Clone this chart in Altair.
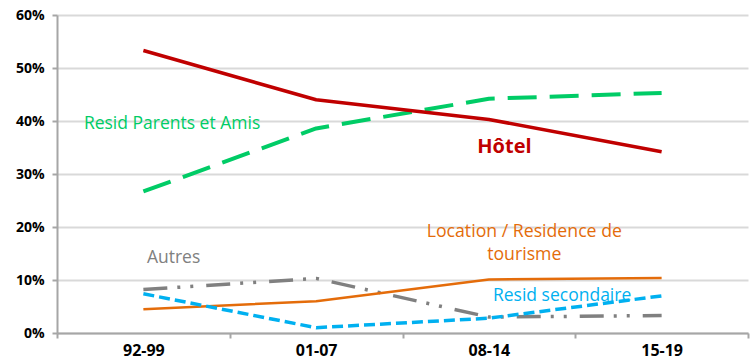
import altair as alt
import pandas as pd

periods = ["92-99", "01-07", "08-14", "15-19"]
hotel = [0.533, 0.440, 0.403, 0.342]
parents = [0.267, 0.386, 0.442, 0.453]
location = [0.045, 0.060, 0.101, 0.104]
autres = [0.082, 0.103, 0.030, 0.033]
secondaire = [0.074, 0.010, 0.028, 0.070]

# annotation labels (x in category-index units, y in value units)
ann_text = ["Resid Parents et Amis", "Hôtel", "Location / Residence de", "tourisme", "Autres", "Resid secondaire"]
ann_x = [0.166, 2.09, 2.205, 2.205, 0.175, 2.424]
ann_y = [0.394, 0.351, 0.1915, 0.147, 0.1415, 0.0698]
ann_color = ["#00CC66", "#C00000", "#E46C0A", "#E46C0A", "#808080", "#00B0F0"]
ann_weight = ["normal", "bold", "normal", "normal", "normal", "normal"]
ann_size = [17.5, 20, 17.7, 17.7, 17.5, 17.5]

series = [
    ("Autres", autres, "#808080", 3.5, [24, 10, 3, 10, 3, 13]),
    ("Location", location, "#E46C0A", 2.5, None),
    ("Resid secondaire", secondaire, "#00B0F0", 3.5, [11, 5]),
    ("Resid Parents et Amis", parents, "#00CC66", 4, [29, 13]),
    ("Hôtel", hotel, "#C00000", 3.5, None),
]

label_expr = "datum.value % 1 == 0 ? " + str(periods) + "[datum.value] : ''"

x_scale = alt.Scale(domain=[-0.5, 3.5], nice=False, zero=False)
y_scale = alt.Scale(domain=[0, 0.6], nice=False)

x_axis = alt.Axis(
    values=[-0.5, 0, 0.5, 1, 1.5, 2, 2.5, 3, 3.5],
    labelExpr=label_expr,
    title=None,
    grid=False,
    domainColor="#A6A6A6",
    domainWidth=2,
    tickColor="#A6A6A6",
    tickWidth=2,
    tickSize=5,
    tickOpacity={"condition": {"test": "datum.value % 1 != 0", "value": 1}, "value": 0},
    labelFont="Open Sans",
    labelFontWeight="bold",
    labelFontSize=16,
    labelColor="#000000",
    labelPadding=4,
    labelOverlap=False,
    labelFlush=False,
)
y_axis = alt.Axis(
    values=[0, 0.1, 0.2, 0.3, 0.4, 0.5, 0.6],
    format=".0%",
    title=None,
    grid=True,
    gridColor="#D9D9D9",
    gridWidth=2,
    domainColor="#A6A6A6",
    domainWidth=2,
    tickColor="#A6A6A6",
    tickWidth=2,
    tickSize=5,
    labelFont="Open Sans",
    labelFontWeight="bold",
    labelFontSize=14,
    labelColor="#000000",
    labelPadding=8,
)

layers = []
for name, vals, color, width, dash in series:
    df = pd.DataFrame({"idx": list(range(len(periods))), "value": vals, "period": periods})
    kw = dict(color=color, strokeWidth=width, interpolate="linear", strokeJoin="round", strokeCap="butt")
    if dash:
        kw["strokeDash"] = dash
    layers.append(
        alt.Chart(df).mark_line(**kw).encode(
            x=alt.X("idx:Q", scale=x_scale, axis=x_axis),
            y=alt.Y("value:Q", scale=y_scale, axis=y_axis),
        )
    )

ann = pd.DataFrame({
    "text": ann_text, "x": ann_x, "y": ann_y,
    "color": ann_color, "weight": ann_weight, "size": ann_size,
})
for i in range(len(ann)):
    row = ann.iloc[[i]]
    layers.append(
        alt.Chart(row).mark_text(
            font="Open Sans",
            fontSize=float(row["size"].iloc[0]),
            fontWeight=row["weight"].iloc[0],
            color=row["color"].iloc[0],
            align="center",
            baseline="middle",
        ).encode(
            x=alt.X("x:Q", scale=x_scale, axis=x_axis),
            y=alt.Y("y:Q", scale=y_scale, axis=y_axis),
            text="text:N",
        )
    )

chart = alt.layer(*layers).properties(
    width=691,
    height=318,
    autosize=alt.AutoSizeParams(type="none"),
    padding={"left": 57, "top": 15, "right": 6, "bottom": 28},
).configure(background="#FFFFFF").configure_view(stroke=None)

chart.save("out.html", embed_options={"renderer": "svg", "actions": False})
